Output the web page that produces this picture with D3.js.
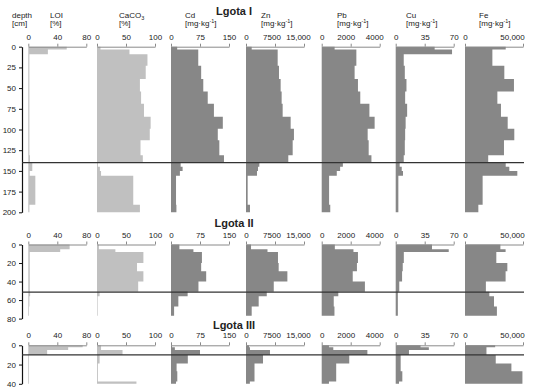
<!DOCTYPE html>
<html>
<head>
<meta charset="utf-8">
<script src="https://cdn.jsdelivr.net/npm/d3@7"></script>
<style>
  body { margin: 0; background: #fff; }
  text { font-family: "Liberation Sans", Arial, sans-serif; fill: #222; }
</style>
</head>
<body>
<svg id="chart" width="550" height="389"></svg>
<script>
// columns
const colNames = ["LOI", "CaCO3", "Cd", "Zn", "Pb", "Cu", "Fe"];
const colMax = [80, 100, 150, 15000, 4000, 70, 50000];
const colTicks = [[0, 40, 80], [0, 50, 100], [0, 75, 150], [0, 7500, 15000], [0, 2000, 4000], [0, 35, 70], [0, 50000]];
const colTickText = [["0", "40", "80"], ["0", "50", "100"], ["0", "75", "150"], ["0", "7500", "15,000"], ["0", "2000", "4000"], ["0", "35", "70"], ["0", "50,000"]];

// Lgota I  (sample depth limits, cm)
const depthI = [0, 3.5, 9, 23, 39, 54, 69, 84.5, 99, 113, 131, 140, 145, 150, 156, 191, 200];
const loiI = [53, 27, 1.5, 1.5, 1.5, 1.5, 1.5, 1.5, 1.5, 1.5, 2.3, 5.5, 5.5, 2, 9.7, 1.5];
const caco3I = [6, 56, 87, 84, 74, 76, 81, 92.5, 91, 75, 79, 1.5, 5, 7, 62.5, 74];
const cdI = [16, 70.5, 70.5, 78, 83.5, 95, 111, 134, 121, 125, 137, 25, 30, 23, 13, 14];
const znI = [1470, 8190, 8190, 8530, 8960, 9220, 9480, 11550, 12400, 12070, 10940, 3450, 3100, 2840, 430, 1030];
const pbI = [890, 2390, 2390, 2270, 2500, 2660, 3290, 3650, 3170, 3240, 3430, 1460, 1270, 1040, 510, 590];
const cuI = [47, 68, 9.7, 11, 13, 11.4, 13.8, 12, 11.4, 11, 9.7, 4.8, 7.3, 8.8, 3.2, 3.2];
const feI = [35100, 23600, 23600, 33900, 42200, 27900, 31000, 36800, 42500, 33600, 20000, 35100, 38200, 45100, 15200, 11500];

// Lgota II
const depthII = [0, 5, 8, 20, 29, 40, 51, 56, 67, 77];
const loiII = [57, 44, 2, 2, 2, 2, 2.5, 1.5, 1];
const caco3II = [3.3, 31.7, 80, 69, 80, 71, 4.5, 1, 1];
const cdII = [21.7, 58, 80, 78, 91, 71, 43, 19, 8];
const znII = [1300, 5560, 8270, 8450, 10700, 7180, 5370, 3280, 1470];
const pbII = [906, 2190, 2500, 2430, 2140, 2980, 1145, 830, 880];
const cuII = [43.8, 64, 9.8, 8.5, 7.7, 4.3, 2.6, 2.6, 2.6];
const feII = [30500, 35000, 27000, 36500, 35000, 18000, 21000, 25000, 27500];

// Lgota III
const depthIII = [0, 2, 5, 10, 19, 27, 37.5, 40];
const loiIII = [75, 55, 26, 1, 1, 1, 1];
const caco3III = [7, 7, 44, 4.5, 1.5, 1.5, 68];
const cdIII = [2.6, 10, 75, 43.5, 14.5, 16.3, 13];
const znIII = [780, 1030, 6200, 4400, 2200, 2200, 1000];
const pbIII = [500, 800, 3150, 1900, 1000, 1000, 500];
const cuIII = [30, 40, 16, 6, 6, 8, 4];
const feIII = [26000, 18500, 18500, 26500, 40000, 49500, 49500];

// layout
const colX = [28.3, 97, 171, 246, 321.7, 395.7, 465];
const colW = 58;
const colFill = ["#c0c0c0", "#c0c0c0", "#878787", "#878787", "#878787", "#878787", "#878787"];
const headX = [50, 119, 185, 261, 337, 406, 479];
const labelShift = { "7500": -3.5, "15,000": -6, "2000": -5, "4000": -5.5, "50,000": -11 };
const depthAxisX = 22;

const sites = [
  { title: "Lgota I", edges: depthI, series: [loiI, caco3I, cdI, znI, pbI, cuI, feI],
    domain: [0, 200], ticks: [0, 25, 50, 75, 100, 125, 150, 175, 200], range: [46.7, 212.3], cut: 140, titleY: 14.5 },
  { title: "Lgota II", edges: depthII, series: [loiII, caco3II, cdII, znII, pbII, cuII, feII],
    domain: [0, 80], ticks: [0, 20, 40, 60, 80], range: [244.5, 318.6], cut: 51.5, titleY: 227 },
  { title: "Lgota III", edges: depthIII, series: [loiIII, caco3III, cdIII, znIII, pbIII, cuIII, feIII],
    domain: [0, 40], ticks: [0, 20, 40], range: [345.3, 383.8], cut: 10, titleY: 329 }
];

const svg = d3.select("#chart");

sites.forEach((site) => {
  const y = d3.scaleLinear().domain(site.domain).range(site.range);
  const g = svg.append("g");

  site.series.forEach((vals, i) => {
    const x = d3.scaleLinear().domain([0, colMax[i]]).range([colX[i], colX[i] + colW]);
    // step profile as one path
    const path = d3.path();
    path.moveTo(x(0), y(site.edges[0]));
    vals.forEach((v, j) => {
      path.lineTo(x(v), y(site.edges[j]));
      path.lineTo(x(v), y(site.edges[j + 1]));
    });
    path.lineTo(x(0), y(site.edges[site.edges.length - 1]));
    path.closePath();
    g.append("path").attr("d", path.toString()).attr("fill", colFill[i]);

    const ax = g.append("g")
      .attr("transform", `translate(0,${site.range[0]})`)
      .call(d3.axisTop(x).tickValues(colTicks[i])
        .tickFormat((d, k) => colTickText[i][k])
        .tickSizeInner(3).tickSizeOuter(0).tickPadding(4));
    ax.select(".domain").attr("stroke", "#8a8a8a");
    ax.selectAll(".tick line").attr("stroke", "#8a8a8a");
    ax.selectAll(".tick text")
      .attr("font-size", 8).attr("fill", "#222")
      .attr("font-family", "Liberation Sans, Arial, sans-serif")
      .attr("dx", function () { return labelShift[this.textContent] || 0; });
  });

  // depth axis
  const ay = g.append("g")
    .attr("transform", `translate(${depthAxisX},0)`)
    .call(d3.axisLeft(y).tickValues(site.ticks).tickSizeInner(3).tickSizeOuter(0).tickPadding(3));
  ay.select(".domain").attr("stroke", "#111").attr("stroke-width", 1.2);
  ay.selectAll(".tick line").attr("stroke", "#111");
  ay.selectAll(".tick text").attr("font-size", 8).attr("fill", "#222")
    .attr("font-family", "Liberation Sans, Arial, sans-serif");

  // horizontal marker line
  g.append("line")
    .attr("x1", depthAxisX).attr("x2", 524)
    .attr("y1", y(site.cut)).attr("y2", y(site.cut))
    .attr("stroke", "#333").attr("stroke-width", 1.3);

  g.append("text")
    .attr("x", 234).attr("y", site.titleY)
    .attr("text-anchor", "middle")
    .attr("font-size", 11).attr("font-weight", "bold")
    .text(site.title);
});

// column headers
const head = svg.append("g").attr("font-size", 8);
head.append("text").attr("x", 12).attr("y", 17.5).text("depth");
head.append("text").attr("x", 12).attr("y", 26).text("[cm]");
colNames.forEach((name, i) => {
  const t1 = head.append("text").attr("x", headX[i]).attr("y", 17.5);
  const t2 = head.append("text").attr("x", headX[i]).attr("y", 26);
  if (name === "CaCO3") {
    t1.append("tspan").text("CaCO");
    t1.append("tspan").attr("font-size", 5.5).attr("dy", 2).text("3");
  } else {
    t1.text(name);
  }
  if (i < 2) {
    t2.text("[%]");
  } else {
    t2.append("tspan").text("[mg·kg");
    t2.append("tspan").attr("font-size", 5.5).attr("dy", -3).text("-1");
    t2.append("tspan").attr("dy", 3).text("]");
  }
});
</script>
</body>
</html>
